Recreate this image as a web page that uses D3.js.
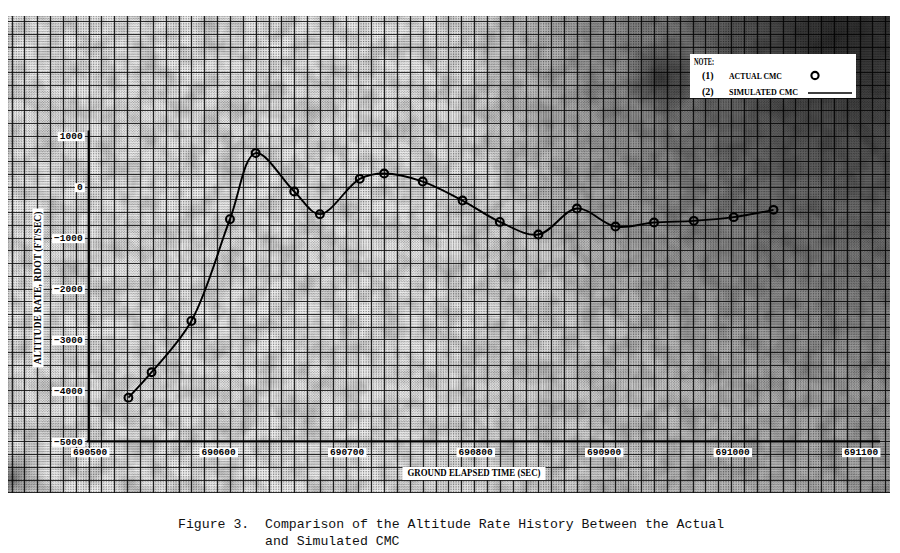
<!DOCTYPE html>
<html><head><meta charset="utf-8">
<script src="https://cdn.jsdelivr.net/npm/d3@7"></script>
<style>body{margin:0;background:#fff} svg{display:block}</style>
</head><body>
<script>
// ---- data ----
const times = [690531, 690549, 690580, 690610, 690630, 690660, 690680, 690711, 690730, 690760, 690791, 690820, 690850, 690880, 690910, 690940, 690971, 691002, 691033];
const actualRdot = [-4143, -3644, -2637, -639, 658, -96, -540, 153, 257, 100, -273, -692, -941, -430, -784, -705, -672, -599, -456];
const simulatedRdot = [-4143, -3644, -2637, -639, 658, -96, -540, 153, 257, 100, -273, -692, -941, -430, -784, -705, -672, -599, -456];
const xTicks = [690500, 690600, 690700, 690800, 690900, 691000, 691100];
const yTicks = [1000, 0, -1000, -2000, -3000, -4000, -5000];
const xTitle = "GROUND ELAPSED TIME (SEC)";
const yTitle = "ALTITUDE RATE, RDOT (FT/SEC)";
const legendTitle = "NOTE:";
const legendNums = ["(1)", "(2)"];
const legendNames = ["ACTUAL CMC", "SIMULATED CMC"];
const captionLines = ["Figure 3.  Comparison of the Altitude Rate History Between the Actual", "and Simulated CMC"];

// ---- layout ----
const W = 900, H = 553;
const paper = {x0: 8, x1: 890, y0: 16, y1: 493};
const svg = d3.select("body").append("svg").attr("width", W).attr("height", H);

const x = d3.scaleLinear().domain([690500, 691100]).range([88.6, 859.6]);
const y = d3.scaleLinear().domain([-5000, 1000]).range([441.3, 135.7]);

const defs = svg.append("defs");
defs.append("clipPath").attr("id", "paperClip").append("rect")
  .attr("x", paper.x0).attr("y", paper.y0).attr("width", paper.x1 - paper.x0).attr("height", paper.y1 - paper.y0);

const rg = defs.append("radialGradient").attr("id", "darkTR").attr("gradientUnits", "userSpaceOnUse")
  .attr("cx", 840).attr("cy", 35).attr("r", 380);
rg.append("stop").attr("offset", 0).attr("stop-color", "#000").attr("stop-opacity", 0.75);
rg.append("stop").attr("offset", 0.35).attr("stop-color", "#000").attr("stop-opacity", 0.45);
rg.append("stop").attr("offset", 1).attr("stop-color", "#000").attr("stop-opacity", 0);

const lg = defs.append("linearGradient").attr("id", "darkR").attr("gradientUnits", "userSpaceOnUse")
  .attr("x1", 420).attr("y1", 0).attr("x2", 890).attr("y2", 0);
lg.append("stop").attr("offset", 0).attr("stop-color", "#000").attr("stop-opacity", 0);
lg.append("stop").attr("offset", 1).attr("stop-color", "#000").attr("stop-opacity", 0.3);

const sm = defs.append("radialGradient").attr("id", "smudge").attr("gradientUnits", "userSpaceOnUse")
  .attr("cx", 662).attr("cy", 78).attr("r", 38);
sm.append("stop").attr("offset", 0).attr("stop-color", "#000").attr("stop-opacity", 0.55);
sm.append("stop").attr("offset", 1).attr("stop-color", "#000").attr("stop-opacity", 0);

const bl = defs.append("radialGradient").attr("id", "cornerBL").attr("gradientUnits", "userSpaceOnUse")
  .attr("cx", 12).attr("cy", 478).attr("r", 35);
bl.append("stop").attr("offset", 0).attr("stop-color", "#000").attr("stop-opacity", 0.4);
bl.append("stop").attr("offset", 1).attr("stop-color", "#000").attr("stop-opacity", 0);

// mottled scan texture
const f = defs.append("filter").attr("id", "mottle").attr("x", 0).attr("y", 0).attr("width", 1).attr("height", 1);
f.append("feTurbulence").attr("type", "fractalNoise").attr("baseFrequency", 0.05).attr("numOctaves", 3).attr("seed", 7).attr("result", "n");
f.append("feColorMatrix").attr("in", "n").attr("type", "matrix")
  .attr("values", "0 0 0 0 0  0 0 0 0 0  0 0 0 0 0  1.6 0 0 0 -0.55");

// ---- graph paper ----
const g = svg.append("g").attr("clip-path", "url(#paperClip)");
g.append("rect").attr("x", paper.x0).attr("y", paper.y0).attr("width", paper.x1 - paper.x0).attr("height", paper.y1 - paper.y0).attr("fill", "#ececec");

const tMin = x.invert(paper.x0), tMax = x.invert(paper.x1);
const vMin = y.invert(paper.y1), vMax = y.invert(paper.y0);
const minorX = d3.range(Math.ceil((tMin - 690500) / 2) * 2 + 690500, tMax, 2);
const minorY = d3.range(Math.ceil((vMin + 5000) / 50) * 50 - 5000, vMax, 50);
const majorX = d3.range(Math.ceil((tMin - 690500) / 10) * 10 + 690500, tMax, 10);
const majorY = d3.range(Math.ceil((vMin + 5000) / 250) * 250 - 5000, vMax, 250);

g.append("g").selectAll("line").data(minorX).join("line")
  .attr("x1", d => x(d)).attr("x2", d => x(d)).attr("y1", paper.y0).attr("y2", paper.y1)
  .attr("stroke", "#000").attr("stroke-opacity", 0.36).attr("stroke-width", 0.8).attr("stroke-dasharray", "1.2 1.3");
g.append("g").selectAll("line").data(minorY).join("line")
  .attr("y1", d => y(d)).attr("y2", d => y(d)).attr("x1", paper.x0).attr("x2", paper.x1)
  .attr("stroke", "#000").attr("stroke-opacity", 0.36).attr("stroke-width", 0.8).attr("stroke-dasharray", "1.2 1.3");
g.append("g").selectAll("line").data(majorX).join("line")
  .attr("x1", d => Math.round(x(d)) + 0.5).attr("x2", d => Math.round(x(d)) + 0.5).attr("y1", paper.y0).attr("y2", paper.y1)
  .attr("stroke", "#111").attr("stroke-opacity", 0.9).attr("stroke-width", 1.3);
g.append("g").selectAll("line").data(majorY).join("line")
  .attr("y1", d => Math.round(y(d)) + 0.5).attr("y2", d => Math.round(y(d)) + 0.5).attr("x1", paper.x0).attr("x2", paper.x1)
  .attr("stroke", "#111").attr("stroke-opacity", 0.85).attr("stroke-width", 1.1);

// scan darkening
g.append("rect").attr("x", paper.x0).attr("y", paper.y0).attr("width", paper.x1 - paper.x0).attr("height", paper.y1 - paper.y0).attr("filter", "url(#mottle)").attr("opacity", 0.25);
g.append("rect").attr("x", paper.x0).attr("y", paper.y0).attr("width", paper.x1 - paper.x0).attr("height", paper.y1 - paper.y0).attr("fill", "url(#darkR)");
g.append("rect").attr("x", paper.x0).attr("y", paper.y0).attr("width", paper.x1 - paper.x0).attr("height", paper.y1 - paper.y0).attr("fill", "url(#darkTR)");
g.append("rect").attr("x", 600).attr("y", paper.y0).attr("width", 130).attr("height", 140).attr("fill", "url(#smudge)");
g.append("rect").attr("x", paper.x0).attr("y", 430).attr("width", 60).attr("height", 63).attr("fill", "url(#cornerBL)");

// ---- axes lines ----
svg.append("line").attr("x1", x(690500)).attr("x2", x(690500)).attr("y1", y(1100)).attr("y2", y(-5000))
  .attr("stroke", "#000").attr("stroke-width", 2);
svg.append("line").attr("x1", x(690500) - 2).attr("x2", 880).attr("y1", y(-5000)).attr("y2", y(-5000))
  .attr("stroke", "#000").attr("stroke-width", 2.2);

// ---- tick labels via d3 axes ----
const labelFont = "'Liberation Mono', 'DejaVu Sans Mono', monospace";
const xAxis = svg.append("g").attr("transform", `translate(1, ${y(-5000) + 7.5})`)
  .call(d3.axisBottom(x).tickValues(xTicks).tickFormat(d3.format("d")).tickSize(0).tickPadding(0));
xAxis.select(".domain").remove();
xAxis.selectAll("text").attr("font-family", labelFont).attr("font-size", 9.5).attr("font-weight", "bold").attr("fill", "#000").attr("dy", "0.66em");

const yAxis = svg.append("g").attr("transform", `translate(${x(690500) - 6}, 0)`)
  .call(d3.axisLeft(y).tickValues(yTicks).tickFormat(d3.format("d")).tickSize(0).tickPadding(0));
yAxis.select(".domain").remove();
yAxis.selectAll("text").attr("font-family", labelFont).attr("font-size", 9.5).attr("font-weight", "bold").attr("fill", "#000");

function boxBehind(sel, pad, vpad) {
  sel.each(function() {
    const b = this.getBBox();
    d3.select(this.parentNode).insert("rect", "text")
      .attr("x", b.x - pad).attr("y", b.y + 1 - vpad).attr("width", b.width + 2 * pad).attr("height", b.height - 2 + 2 * vpad)
      .attr("fill", "#fff");
  });
}
boxBehind(xAxis.selectAll("text"), 2, 0);
boxBehind(yAxis.selectAll("text"), 2, 0);

// ---- axis titles ----
const titleFont = "'Liberation Serif', 'DejaVu Serif', serif";
const xt = svg.append("g");
xt.append("text").attr("x", 474).attr("y", 476).attr("text-anchor", "middle")
  .attr("font-family", titleFont).attr("font-weight", "bold").attr("font-size", 9.5)
  .attr("textLength", 133).attr("lengthAdjust", "spacingAndGlyphs").text(xTitle);
boxBehind(xt.selectAll("text"), 5, 2);

const yt = svg.append("g").attr("transform", "translate(40.5, 288) rotate(-90)");
yt.append("text").attr("x", 0).attr("y", 0).attr("text-anchor", "middle")
  .attr("font-family", titleFont).attr("font-weight", "bold").attr("font-size", 9.5)
  .attr("textLength", 153).attr("lengthAdjust", "spacingAndGlyphs").text(yTitle);
boxBehind(yt.selectAll("text"), 3, 1);

// ---- data marks ----
const pts = times.map((t, i) => ({t, v: simulatedRdot[i]}));
svg.append("path").datum(pts)
  .attr("d", d3.line().x(d => x(d.t)).y(d => y(d.v)).curve(d3.curveCatmullRom.alpha(0.5)))
  .attr("fill", "none").attr("stroke", "#000").attr("stroke-width", 1.9);

svg.append("g").selectAll("circle").data(times.map((t, i) => ({t, v: actualRdot[i]}))).join("circle")
  .attr("cx", d => x(d.t)).attr("cy", d => y(d.v)).attr("r", 3.9)
  .attr("fill", "none").attr("stroke", "#000").attr("stroke-width", 2.1);

// ---- legend ----
const lgG = svg.append("g");
lgG.append("rect").attr("x", 690).attr("y", 54).attr("width", 166).attr("height", 44).attr("fill", "#fff");
lgG.append("text").attr("x", 694).attr("y", 65).attr("font-family", titleFont).attr("font-weight", "bold")
  .attr("font-size", 10).attr("textLength", 20).attr("lengthAdjust", "spacingAndGlyphs").text(legendTitle);
const ly = [79, 95];
legendNums.forEach((n, i) => {
  lgG.append("text").attr("x", 702).attr("y", ly[i]).attr("font-family", titleFont).attr("font-weight", "bold")
    .attr("font-size", 10).text(n);
  lgG.append("text").attr("x", 729).attr("y", ly[i]).attr("font-family", titleFont).attr("font-weight", "bold")
    .attr("font-size", 9).attr("textLength", i === 0 ? 53 : 69).attr("lengthAdjust", "spacingAndGlyphs").text(legendNames[i]);
});
lgG.append("circle").attr("cx", 815).attr("cy", 75.5).attr("r", 3.6).attr("fill", "none").attr("stroke", "#000").attr("stroke-width", 2.1);
lgG.append("line").attr("x1", 808).attr("x2", 852).attr("y1", 93).attr("y2", 93).attr("stroke", "#000").attr("stroke-width", 1.5);

// ---- caption ----
const capFont = "'Liberation Mono', 'DejaVu Sans Mono', monospace";
svg.append("text").attr("x", 178).attr("y", 528).style("white-space", "pre")
  .attr("font-family", capFont).attr("font-size", 13.2).attr("fill", "#111").text(captionLines[0]);
svg.append("text").attr("x", 265).attr("y", 545).style("white-space", "pre")
  .attr("font-family", capFont).attr("font-size", 13.2).attr("fill", "#111").text(captionLines[1]);
</script>
</body></html>
